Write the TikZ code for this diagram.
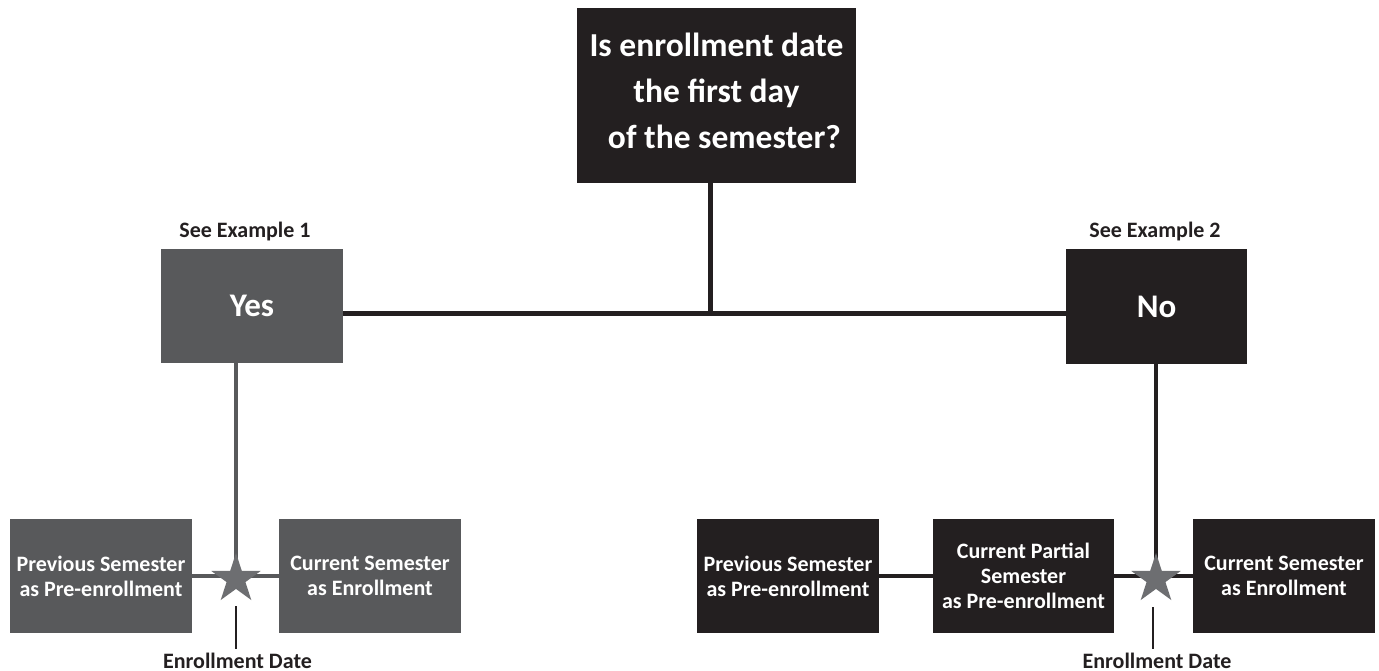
\documentclass[tikz,border=0pt]{standalone}
\usepackage{fontspec}
\setmainfont{Carlito}
\usetikzlibrary{shapes.geometric,calc}
\definecolor{ink}{HTML}{231F20}
\definecolor{slate}{HTML}{58595B}
\definecolor{starc}{HTML}{6D6E71}
\pgfdeclarelayer{background}
\pgfsetlayers{background,main}
\begin{document}
\begin{tikzpicture}[x=1pt,y=-1pt,
  box/.style={rectangle, inner sep=0pt, minimum width=182pt, minimum height=114pt,
    text=white, font=\bfseries\fontsize{22}{25}\selectfont, align=center},
  darkbox/.style={box, fill=ink},
  greybox/.style={box, fill=slate},
  bigtext/.style={font=\bfseries\fontsize{33}{46}\selectfont},
  lab/.style={text=ink, font=\bfseries\fontsize{22}{25}\selectfont, inner sep=0pt, anchor=base},
  starmark/.style={star, star points=5, star point ratio=2.618, minimum size=52pt,
    inner sep=0pt, fill=starc},
  heavy/.style={ink, line width=5pt},
  branchgrey/.style={slate, line width=4pt},
  branchink/.style={ink, line width=4pt},
  pointer/.style={ink, line width=1.2pt}
]
\useasboundingbox (0,0) rectangle (1379,671);

% top question
\node[darkbox, bigtext, minimum width=279pt, minimum height=175pt, font=\bfseries\fontsize{33.5}{46}\selectfont, text depth=10pt]
  (q) at (716.5,95.5) {Is enrollment date\\the first day\hspace*{15pt}\\\hspace*{16pt}of the semester?};

% yes / no
\node[greybox, bigtext] (yes) at (252,306) {Yes};
\node[darkbox, bigtext, minimum width=181pt, minimum height=115pt] (no) at (1156.5,306.5) {No};
\node[lab] (ex1) at (245,238) {See Example 1};
\node[lab] (ex2) at (1155,238) {See Example 2};

% bottom left
\node[greybox] (lp) at (101,576) {Previous Semester\\as Pre-enrollment};
\node[greybox] (lc) at (370,576) {Current Semester\\as Enrollment};
% bottom right
\node[darkbox] (rp) at (788,576) {Previous Semester\\as Pre-enrollment};
\node[darkbox, minimum width=181pt] (rq) at (1023.5,576) {Current Partial\\Semester\\as Pre-enrollment};
\node[darkbox] (rc) at (1284,576) {Current Semester\\as Enrollment};

% stars
\node[starmark] (s1) at (236,579) {};
\node[starmark] (s2) at (1156,579) {};

% enrollment date labels
\node[lab] (d1) at (237.5,668) {Enrollment Date};
\node[lab] (d2) at (1157,668) {Enrollment Date};

\coordinate (j) at (710,313);
\coordinate (t1) at ($(s1.center)+(0,27)$);
\coordinate (t2) at ($(s2.center)+(-3,28)$);

\begin{pgfonlayer}{background}
  \draw[heavy] (q.south -| j) -- (j);
  \draw[heavy] (yes.east |- j) -- (no.west |- j);
  \draw[branchgrey] (yes.south -| s1) -- (s1.center);
  \draw[branchgrey] (lp.east) -- (lc.west);
  \draw[branchink] (no.south -| s2) -- (s2.center);
  \draw[branchink] (rp.east) -- (rq.west);
  \draw[branchink] (rq.east) -- (rc.west);
\end{pgfonlayer}
\draw[pointer, shorten >=3pt] (t1) -- (t1 |- d1.north);
\draw[pointer, shorten >=3pt] (t2) -- (t2 |- d2.north);
\end{tikzpicture}
\end{document}
